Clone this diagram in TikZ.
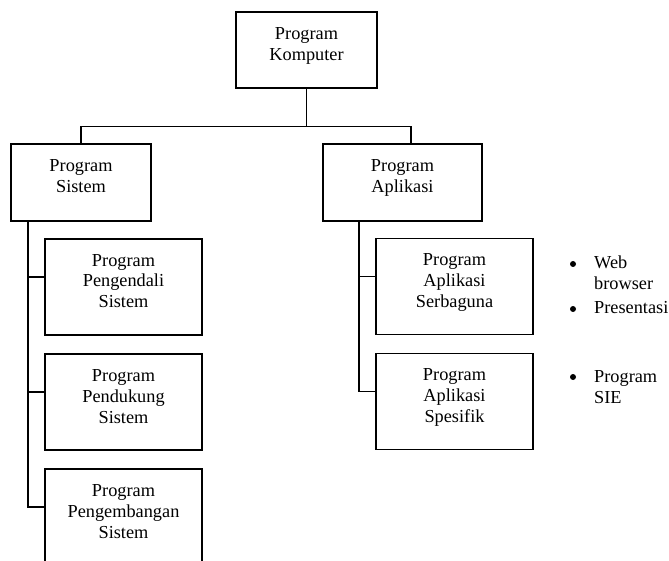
\documentclass[tikz,border=0pt]{standalone}
\usepackage{fontspec}
\setmainfont{Liberation Serif}
% struts that balance the text block around the mean baseline
\newcommand\tophi{\rule{0pt}{14pt}}
\newcommand\botlo{\rule[-14pt]{0pt}{0pt}}
\begin{document}
\begin{tikzpicture}[x=1pt,y=-1pt,
  txt/.style={font=\fontsize{18.3}{21}\selectfont},
  box/.style={txt, draw, line width=1.5pt, align=center, inner sep=0pt},
  wide/.style={box, minimum width=157pt, minimum height=96pt},
  wire/.style={line width=1.5pt},
  item/.style={txt, align=left, inner sep=0pt, anchor=north west},
  dot/.style={circle, fill, inner sep=0pt, minimum size=6pt}]
\clip (0,0) rectangle (669,561);

% hierarchy boxes
\node[box, minimum width=141pt, minimum height=76pt] (top) at (306.5,50) {\tophi Program\\Komputer\botlo};
\node[box, minimum width=140pt, minimum height=77pt] (sys) at (81,182.5) {\tophi Program\\Sistem\botlo};
\node[box, minimum width=159pt, minimum height=77pt] (app) at (402.5,182.5) {\tophi Program\\Aplikasi\botlo};

\node[wide] (s1) at (123.5,287) {\tophi Program\\Pengendali\\Sistem\botlo};
\node[wide] (s2) at (123.5,402) {\tophi Program\\Pendukung\\Sistem\botlo};
\node[wide] (s3) at (123.5,517) {\tophi Program\\Pengembangan\\Sistem\botlo};

\node[wide] (a1) at (454.5,286.5) {\tophi Program\\Aplikasi\\Serbaguna\botlo};
\node[wide] (a2) at (454.5,401.5) {\tophi Program\\Aplikasi\\Spesifik\botlo};

% top level connectors
\draw[wire] (top.south) -- ++(0,38) coordinate (hub);
\draw[wire] (sys.north) |- (hub) -| ([xshift=8.5pt]app.north);

% system programs spine
\draw[wire] ([xshift=-53pt]sys.south) |- ([yshift=10pt]s3.west);
\draw[wire] ([yshift=10pt]s1.west) -- ++(-17,0);
\draw[wire] ([yshift=10pt]s2.west) -- ++(-17,0);

% application programs spine
\draw[wire] ([xshift=-43.5pt]app.south) |- ([yshift=10pt]a2.west);
\draw[wire] ([yshift=10pt]a1.west) -- ++(-17,0);

% examples
\node[dot] (b1) at (573,264) {};
\node[item] (i1) at (594,254) {\tophi Web\\browser};
\node[dot] (b2) at (573,309) {};
\node[item] (i2) at (594,299) {\tophi Presentasi};
\node[dot] (b3) at (573,377) {};
\node[item] (i3) at (594,368) {\tophi Program\\SIE};
\end{tikzpicture}
\end{document}
